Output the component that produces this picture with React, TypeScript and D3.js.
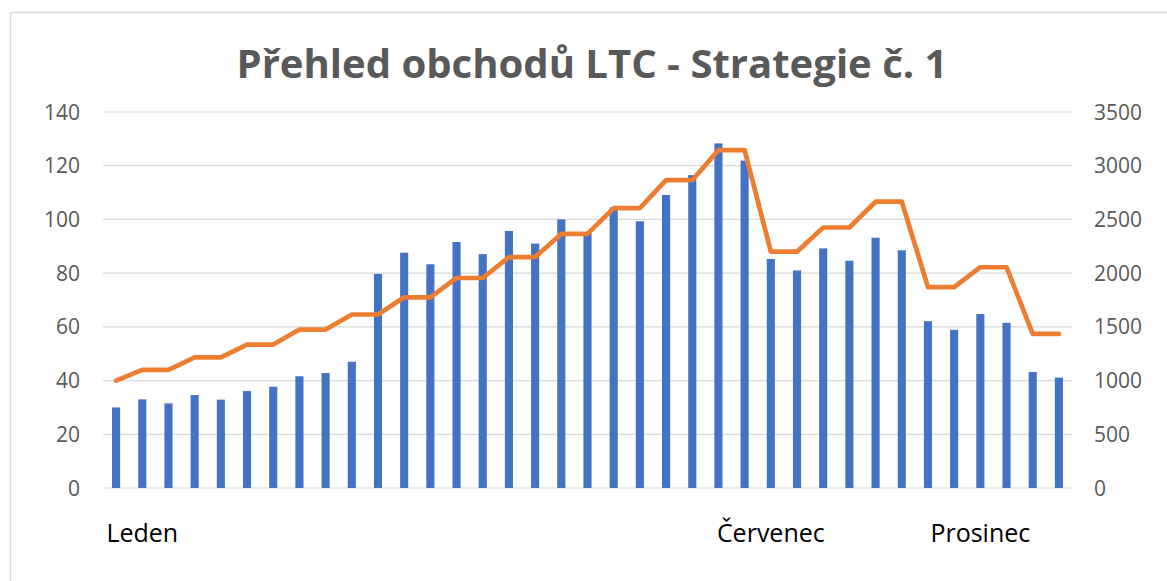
import React from 'react';
import * as d3 from 'd3';

const width = 1167;
const height = 581;
const margin = { top: 112, right: 95, bottom: 93, left: 103 };
const blue = '#4472c4';
const orange = '#ed7d31';
const grey = '#595959';
const font = '"Open Sans", "Noto Sans", sans-serif';

// one entry per category, most of them have no label
const categoryLabels = [
  '', 'Leden', '', '', '', '', '', '', '', '', '', '', '',
  '', '', '', '', '', '', '', '', '', '', '', '',
  'Červenec', '', '', '', '', '', '', '', 'Prosinec', '', '', '',
];

// bars, left axis
const trades = [
  30, 33, 31.5, 34.6, 32.9, 36.1, 37.7, 41.6, 42.8, 47, 79.7, 87.6, 83.3,
  91.6, 87.1, 95.7, 91, 100, 95, 104.5, 99.3, 109.1, 116.5, 128.3, 121.9,
  85.3, 81, 89.2, 84.6, 93.2, 88.5, 62.1, 58.9, 64.8, 61.5, 43.2, 41.1,
];

// line, right axis
const balance = [
  1000, 1100, 1100, 1215, 1215, 1335, 1335, 1475, 1475, 1615, 1615, 1775, 1775,
  1955, 1955, 2150, 2150, 2365, 2365, 2605, 2605, 2865, 2865, 3145, 3145,
  2200, 2200, 2425, 2425, 2665, 2665, 1870, 1870, 2055, 2055, 1435, 1435,
];

const leftMax = 140;
const rightMax = 3500;

export default function App() {
  const x = d3.scaleBand<number>()
    .domain(d3.range(categoryLabels.length))
    .range([margin.left, width - margin.right])
    .paddingInner(0.69)
    .paddingOuter(0.345);
  const yLeft = d3.scaleLinear().domain([0, leftMax]).range([height - margin.bottom, margin.top]);
  const yRight = d3.scaleLinear().domain([0, rightMax]).range([height - margin.bottom, margin.top]);

  const cx = (i: number) => (x(i) as number) + x.bandwidth() / 2;

  const line = d3.line<number>()
    .x((d, i) => cx(i))
    .y(d => yRight(d));

  return (
    <svg width={width} height={height} style={{ position: 'absolute', left: 0, top: 0, background: '#fff' }}>
      <rect x={10.5} y={12.5} width={1200} height={700} fill="#fff" stroke="#d9d9d9" strokeWidth={1.5} />

      <text x={592} y={78} textAnchor="middle" fontFamily={font} fontWeight="bold" fontSize={39}
        fill={grey} textLength={711} lengthAdjust="spacingAndGlyphs">
        Přehled obchodů LTC - Strategie č. 1
      </text>

      {yLeft.ticks(7).map(t => (
        <line key={'g' + t} x1={margin.left} x2={width - margin.right} y1={yLeft(t)} y2={yLeft(t)}
          stroke="#d9d9d9" strokeWidth={1.2} />
      ))}

      {yLeft.ticks(7).map(t => (
        <text key={'l' + t} x={80} y={yLeft(t)} dy="0.36em" textAnchor="end" fontFamily={font}
          fontSize={21} fill={grey}>{t}</text>
      ))}
      {yRight.ticks(7).map(t => (
        <text key={'r' + t} x={1094} y={yRight(t)} dy="0.36em" textAnchor="start" fontFamily={font}
          fontSize={21} fill={grey}>{t}</text>
      ))}

      {trades.map((d, i) => (
        <rect key={i} x={x(i)} y={yLeft(d)} width={x.bandwidth()} height={yLeft(0) - yLeft(d)} fill={blue} />
      ))}

      <path d={line(balance) || ''} fill="none" stroke={orange} strokeWidth={4.7}
        strokeLinejoin="round" strokeLinecap="round" />

      {categoryLabels.map((label, i) => label ? (
        <text key={'c' + i} x={cx(i)} y={542} textAnchor="middle" fontFamily={font} fontSize={25}
          fill="#000">{label}</text>
      ) : null)}
    </svg>
  );
}
